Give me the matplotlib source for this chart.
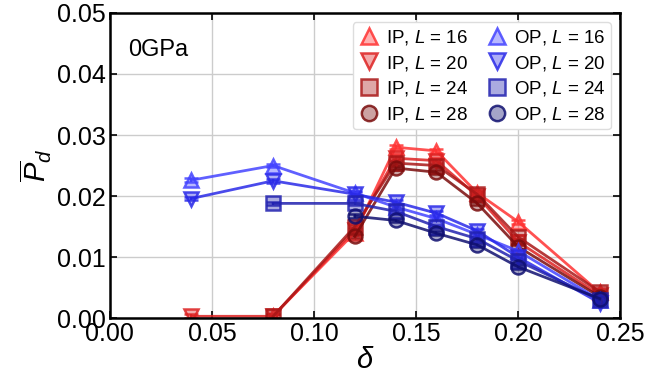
import matplotlib
matplotlib.use("Agg")
import matplotlib.pyplot as plt
from matplotlib.lines import Line2D
from matplotlib.colors import to_rgba
from matplotlib.ticker import FormatStrFormatter
import numpy as np

plt.rcParams["font.family"] = ["Liberation Sans", "DejaVu Sans"]
plt.rcParams["mathtext.fontset"] = "custom"
plt.rcParams["mathtext.it"] = "Liberation Sans:italic"
plt.rcParams["mathtext.rm"] = "Liberation Sans"

# in-plane (IP) order parameter vs delta for each lattice size
ip_delta = {
    16: [0.08, 0.12, 0.14, 0.16, 0.18, 0.20, 0.24],
    20: [0.04, 0.08, 0.12, 0.14, 0.16, 0.18, 0.20, 0.24],
    24: [0.08, 0.12, 0.14, 0.16, 0.18, 0.20, 0.24],
    28: [0.12, 0.14, 0.16, 0.18, 0.20, 0.24],
}
ip_pd = {
    16: [0.0004, 0.0140, 0.0280, 0.0274, 0.0205, 0.0158, 0.0042],
    20: [0.0003, 0.0003, 0.0145, 0.0262, 0.0258, 0.0200, 0.0125, 0.0038],
    24: [0.0003, 0.0150, 0.0254, 0.0250, 0.0203, 0.0133, 0.0043],
    28: [0.0134, 0.0246, 0.0239, 0.0188, 0.0117, 0.0035],
}

# out-of-plane (OP) order parameter
op_delta = {
    16: [0.04, 0.08, 0.12, 0.14, 0.16, 0.18, 0.20, 0.24],
    20: [0.04, 0.08, 0.12, 0.14, 0.16, 0.18, 0.20, 0.24],
    24: [0.08, 0.12, 0.14, 0.16, 0.18, 0.20, 0.24],
    28: [0.12, 0.14, 0.16, 0.18, 0.20, 0.24],
}
op_pd = {
    16: [0.0226, 0.0250, 0.0205, 0.0182, 0.0163, 0.0137, 0.0110, 0.0030],
    20: [0.0196, 0.0225, 0.0203, 0.0190, 0.0172, 0.0143, 0.0100, 0.0025],
    24: [0.0188, 0.0188, 0.0175, 0.0150, 0.0130, 0.0094, 0.0030],
    28: [0.0167, 0.0160, 0.0139, 0.0120, 0.0084, 0.0032],
}

sizes = [16, 20, 24, 28]
markers = {16: "^", 20: "v", 24: "s", 28: "o"}
ip_colors = {16: "#ff3333", 20: "#dd2222", 24: "#aa1818", 28: "#7a0c0c"}
op_colors = {16: "#4444ff", 20: "#2a2ae8", 24: "#2222b0", 28: "#101070"}

fig = plt.figure(figsize=(6.46, 3.81), dpi=100)
ax = fig.add_axes([0.170, 0.165, 0.790, 0.801])

handles = []


def draw(x, y, color, marker, label):
    face = to_rgba(color, 0.38)
    line = to_rgba(color, 0.85)
    ax.errorbar(x, y, yerr=0.0003, color=line, marker=marker, markersize=10,
                markerfacecolor=face, markeredgecolor=line,
                markeredgewidth=1.8, lw=2.0, capsize=5, elinewidth=1.5,
                capthick=1.5)
    handles.append(Line2D([], [], ls="none", marker=marker, markersize=11,
                          markerfacecolor=face, markeredgecolor=line,
                          markeredgewidth=1.8, label=label))


for L in sizes:
    draw(ip_delta[L], ip_pd[L], ip_colors[L], markers[L], f"IP, $L$ = {L}")
for L in sizes:
    draw(op_delta[L], op_pd[L], op_colors[L], markers[L], f"OP, $L$ = {L}")

ax.set_xlim(0, 0.25)
ax.set_ylim(0, 0.05)
ax.set_xticks(np.arange(0, 0.251, 0.05))
ax.set_yticks(np.arange(0, 0.051, 0.01))
ax.xaxis.set_major_formatter(FormatStrFormatter("%.2f"))
ax.yaxis.set_major_formatter(FormatStrFormatter("%.2f"))
ax.tick_params(direction="in", labelsize=18, length=5, width=1.2,
               top=True, right=True, pad=3)
ax.grid(color="#cccccc", lw=1.0)
ax.set_axisbelow(True)
for s in ax.spines.values():
    s.set_linewidth(1.8)

ax.set_xlabel(r"$\delta$", fontsize=21, labelpad=0)
ax.set_ylabel(r"$\overline{P}_d$", fontsize=21, labelpad=2)
ax.text(0.035, 0.915, "0GPa", transform=ax.transAxes, fontsize=17,
        va="top", ha="left")

ax.legend(handles=handles, ncol=2, loc="upper right", fontsize=13.5,
          handletextpad=0.3, columnspacing=0.9, labelspacing=0.35,
          borderaxespad=0.5, borderpad=0.3, handlelength=1.2,
          framealpha=1.0, edgecolor="#dddddd")

fig.savefig("out.png", dpi=100)
